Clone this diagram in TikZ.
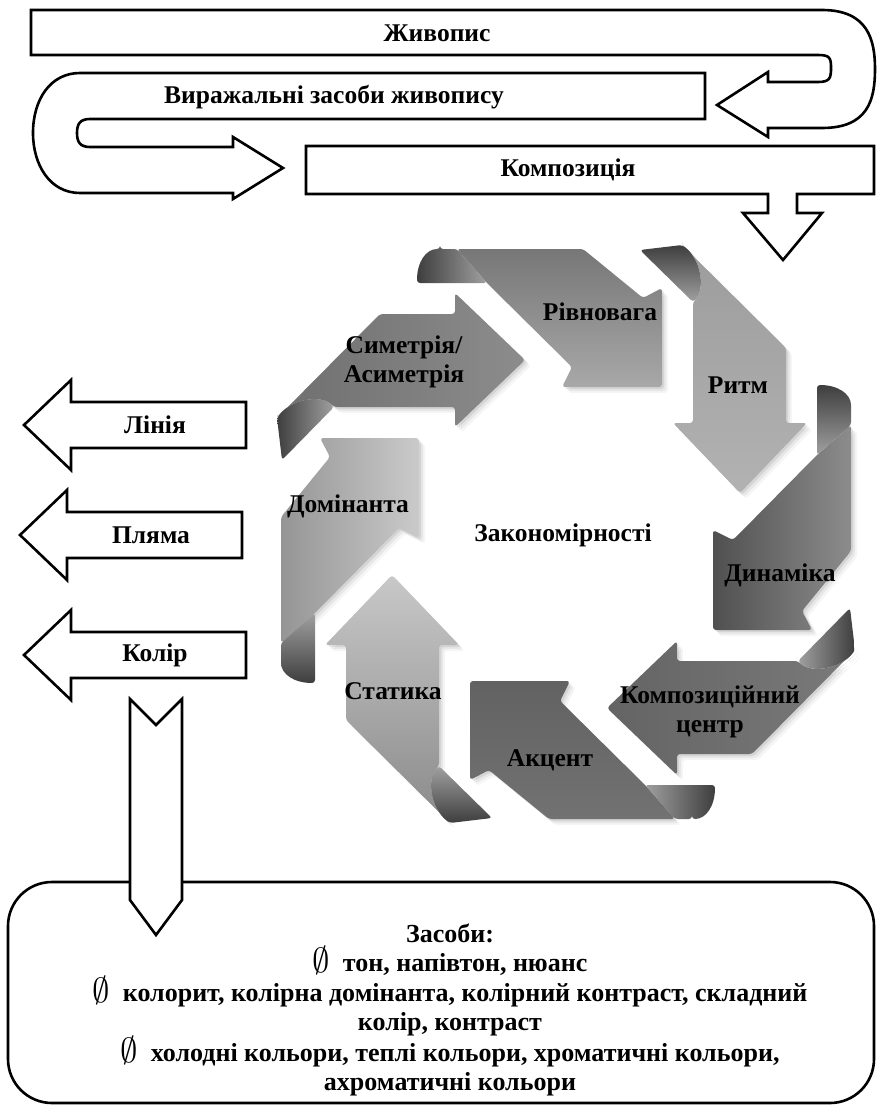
\documentclass[tikz,border=0pt]{standalone}
\usepackage{fontspec}
\setmainfont{Liberation Serif}
\usetikzlibrary{positioning}
\tikzstyle{outline}=[draw, line width=2.6pt, fill=white, line join=miter]
\tikzstyle{lbl}=[font=\fontsize{25.5}{29}\selectfont\bfseries, align=center, inner sep=0pt]
\tikzstyle{boxtext}=[font=\fontsize{26}{28.8}\selectfont\bfseries, align=center, inner sep=0pt]
\tikzstyle{curl}=[rounded corners=3pt]
\tikzstyle{shadow}=[fill=black, rounded corners=3pt]
\newcommand{\nullmark}{\raisebox{-1pt}{\scalebox{1.4}{$\emptyset$}}~~}
\definecolor{sTail0}{HTML}{6F6F6F}\definecolor{sHead0}{HTML}{8C8C8C}
\definecolor{sTail1}{HTML}{9C9C9C}\definecolor{sHead1}{HTML}{B2B2B2}
\definecolor{sTail2}{HTML}{7A7A7A}\definecolor{sHead2}{HTML}{646464}
\definecolor{sTail3}{HTML}{8A8A8A}\definecolor{sHead3}{HTML}{C8C8C8}
\definecolor{dTail0}{HTML}{777777}\definecolor{dHead0}{HTML}{A8A8A8}
\definecolor{dTail1}{HTML}{8C8C8C}\definecolor{dHead1}{HTML}{505050}
\definecolor{dTail2}{HTML}{727272}\definecolor{dHead2}{HTML}{626262}
\definecolor{dTail3}{HTML}{959595}\definecolor{dHead3}{HTML}{CACACA}
\definecolor{curlDark}{HTML}{3E3E3E}\definecolor{curlLight}{HTML}{A0A0A0}
% outlines of the two kinds of ring pieces
\newcommand{\straightpiece}{(-289,-116) -- (-186,-220) -- (-111,-220) -- (-111,-241) -- (-41,-174)
    -- (-111,-107) -- (-111,-127) -- (-232,-127) .. controls (-245,-140) and (-275,-135) .. (-289,-116) -- cycle}
\newcommand{\slantpiece}{(-109,-285) -- (17,-285) -- (77,-236) -- (96,-246) -- (96,-147)
    -- (-4,-147) -- (6,-167) -- (-79,-251) -- cycle}

\begin{document}
\begin{tikzpicture}[x=1pt, y=-1pt]
    \useasboundingbox (0,0) rectangle (876,1105);

    % First the folded arrows at the top
    \path[outline] (31,10) -- (822,10) .. controls (868,10) and (875,40) .. (875,69)
        .. controls (875,100) and (868,128) .. (822,128) -- (768,128) -- (768,137)
        -- (717,105) -- (768,72) -- (768,82) -- (818,82) .. controls (830,82) and (831,78) .. (831,68)
        .. controls (831,58) and (830,55) .. (818,55) -- (31,55) -- cycle;
    \node[lbl] (zhyvopys) at (437,33) {Живопис};

    \path[outline] (705,73) -- (705,119) -- (90,119) .. controls (80,119) and (77,124) .. (77,133)
        .. controls (77,142) and (80,147) .. (90,147) -- (233,147) -- (233,137) -- (283,168)
        -- (233,199) -- (233,193) -- (80,193) .. controls (50,193) and (33,165) .. (33,133)
        .. controls (33,100) and (50,73) .. (80,73) -- cycle;
    \node[lbl] (vyrazh) at (334,97) {Виражальні засоби живопису};

    \path[outline] (306,146) -- (874,146) -- (874,194) -- (797,194) -- (797,213) -- (822,213)
        -- (783,260) -- (743,213) -- (768,213) -- (768,194) -- (306,194) -- cycle;
    \node[lbl] (kompoz) at (568,170) {Композиція};

    % Soft shadows under the ring
    \foreach \k in {0,1,2,3} {
        \foreach \d/\op in {2/0.08, 4/0.06, 6/0.04} {
            \begin{scope}[shift={(566+\d,534+\d)}, rotate=-90*\k]
                \path[shadow, opacity=\op] \straightpiece;
                \path[shadow, opacity=\op] \slantpiece;
            \end{scope}
        }
    }

    % The ring of folded arrows
    \foreach \k in {0,1,2,3} {
        \pgfmathtruncatemacro{\sa}{90-90*\k}
        \pgfmathtruncatemacro{\da}{-90*\k}
        \begin{scope}[shift={(566,534)}, rotate=-90*\k]
            \path[top color=sTail\k, bottom color=sHead\k, shading angle=\sa, rounded corners=3pt] \straightpiece;
            \path[curl, top color=curlDark, bottom color=curlLight, shading angle=\sa]
                (-284,-74) -- (-289,-116) .. controls (-275,-135) and (-245,-140) .. (-232,-127) -- cycle;
            \path[top color=dTail\k, bottom color=dHead\k, shading angle=\da, rounded corners=3pt] \slantpiece;
            \path[curl, top color=curlDark, bottom color=curlLight, shading angle=\sa]
                (-126,-285) -- (-109,-285) -- (-79,-251) -- (-149,-251)
                .. controls (-149,-272) and (-140,-285) .. (-126,-285) -- cycle;
        \end{scope}
    }

    % Labels of the ring
    \foreach \pos/\name/\txt in {{(404,362)/sym/{Симетрія/\\Асиметрія}}, {(600,312)/rivn/Рівновага},
        {(738,385)/rytm/Ритм}, {(780,575)/dyn/Динаміка}, {(710,712)/kcentr/{Композиційний\\центр}},
        {(550,760)/akc/Акцент}, {(393,691)/stat/Статика}, {(348,506)/dom/Домінанта},
        {(563,535)/zakon/Закономірності}}
        \node[lbl] (\name) at \pos {\txt};

    % Arrows on the left
    \foreach \dx/\y/\name/\txt in {0/425/liniia/Лінія, -4/535/pliama/Пляма, 0/655/kolir/Колір} {
        \path[outline, shift={(\dx,\y)}] (246,-23) -- (71,-23) -- (71,-45) -- (24,0)
            -- (71,45) -- (71,23) -- (246,23) -- cycle;
        \node[lbl] (\name) at (155+\dx,\y) {\txt};
    }

    % Box with the means
    \draw[line width=2.6pt, rounded corners=44pt] (8,882) rectangle (874,1103);
    \node[boxtext] (zasoby) at (450,1010) {Засоби:\\
        \nullmark тон, напівтон, нюанс\\
        \nullmark колорит, колірна домінанта, колірний контраст, складний\\
        колір, контраст\\
        \nullmark холодні кольори, теплі кольори, хроматичні кольори,\\
        ахроматичні кольори};
    \path[outline] (130,699) -- (156,725) -- (182,699) -- (182,900) -- (156,935) -- (130,900) -- cycle;
\end{tikzpicture}
\end{document}
